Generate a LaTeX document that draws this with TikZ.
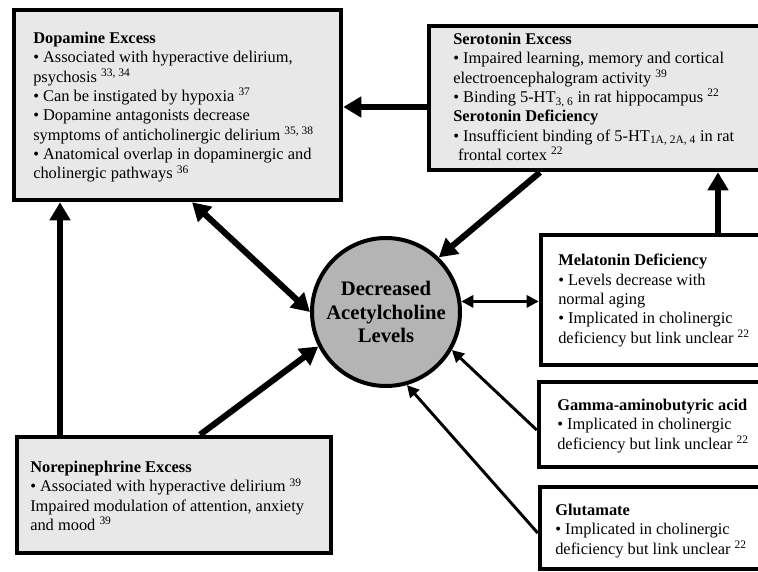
\documentclass[tikz,border=0pt]{standalone}
\usepackage{fontspec}
\setmainfont{Liberation Serif}
\usetikzlibrary{arrows.meta,fit}
\definecolor{boxgray}{RGB}{232,232,232}
\definecolor{circgray}{RGB}{180,180,180}
\begin{document}
\begin{tikzpicture}[x=0.75pt,y=-0.75pt,
  box/.style={draw, line width=3.4pt, inner sep=0pt},
  gbox/.style={box, fill=boxgray},
  wbox/.style={box, fill=white},
  txt/.style={anchor=north west, align=left, inner sep=0pt, font=\fontsize{12.3}{14.5}\selectfont},
  thickarr/.style={line width=4.6pt, -{Triangle[length=13.5pt,width=15pt]}},
  thickdbl/.style={line width=4.6pt, {Triangle[length=13.5pt,width=15pt]}-{Triangle[length=13.5pt,width=15pt]}},
  thinarr/.style={line width=2.2pt, -{Triangle[length=9pt,width=9pt]}},
  thindbl/.style={line width=2.2pt, {Triangle[length=9pt,width=9pt]}-{Triangle[length=9pt,width=9pt]}}]
\useasboundingbox (0,0) rectangle (758,572);
\clip (0,0) rectangle (758,572);
\fill[white] (0,0) rectangle (758,572);

% boxes
\node[gbox, fit={(14,10) (341,200)}] (dop) {};
\node[gbox, fit={(429,26) (780,170)}] (ser) {};
\node[wbox, fit={(541,235) (780,365)}] (mel) {};
\node[wbox, fit={(539,382) (780,467)}] (gaba) {};
\node[wbox, fit={(540,487) (780,569)}] (glu) {};
\node[gbox, fit={(17,437) (331,553)}] (nor) {};
\node[draw, line width=3pt, circle, fill=circgray, minimum size=111pt, inner sep=0pt,
      align=center, font=\fontsize{15.5}{17.6}\selectfont\bfseries] (circ) at (386,312)
      {Decreased\\Acetylcholine\\Levels};

% texts
\node[txt] (tdop) at (33,32) {\textbf{Dopamine Excess}\\
• Associated with hyperactive delirium,\\
psychosis \textsuperscript{33, 34}\\
• Can be instigated by hypoxia \textsuperscript{37}\\
• Dopamine antagonists decrease\\
symptoms of anticholinergic delirium \textsuperscript{35, 38}\\
• Anatomical overlap in dopaminergic and\\
cholinergic pathways \textsuperscript{36}};

\node[txt] (tser) at (453,33) {\textbf{Serotonin Excess}\\
• Impaired learning, memory and cortical\\
electroencephalogram activity \textsuperscript{39}\\
• Binding 5-HT\textsubscript{3, 6} in rat hippocampus \textsuperscript{22}\\
\textbf{Serotonin Deficiency}\\
• Insufficient binding of 5-HT\textsubscript{1A, 2A, 4} in rat\\
\hspace{0.3em}frontal cortex \textsuperscript{22}};

\node[txt] (tmel) at (558,254) {\textbf{Melatonin Deficiency}\\
• Levels decrease with\\
normal aging\\
• Implicated in cholinergic\\
deficiency but link unclear \textsuperscript{22}};

\node[txt] (tgaba) at (557,399) {\textbf{Gamma-aminobutyric acid}\\
• Implicated in cholinergic\\
deficiency but link unclear \textsuperscript{22}};

\node[txt] (tglu) at (555,504) {\textbf{Glutamate}\\
• Implicated in cholinergic\\
deficiency but link unclear \textsuperscript{22}};

\node[txt] (tnor) at (30,461) {\textbf{Norepinephrine Excess}\\
• Associated with hyperactive delirium \textsuperscript{39}\\
Impaired modulation of attention, anxiety\\
and mood \textsuperscript{39}};

% connectors
\draw[thickarr] (ser.west |- 0,107) -- (dop.east |- 0,107);
\draw[thickarr] (540,0 |- ser.south) -- (circ.46);
\draw[thickarr] (718,0 |- mel.north) -- (718,0 |- ser.south);
\draw[thindbl] (circ.8) -- (circ.8 -| mel.west);
\draw[thinarr] (gaba.west |- 0,430) -- (circ.-30);
\draw[thinarr] (glu.west |- 0,533) -- (circ.-74);
\draw[thickarr] (60,0 |- nor.north) -- (60,0 |- dop.south);
\draw[thickarr] (200,0 |- nor.north) -- (circ.207);
\draw[thickdbl] (192,0 |- dop.south) -- (circ.180);
\end{tikzpicture}
\end{document}
